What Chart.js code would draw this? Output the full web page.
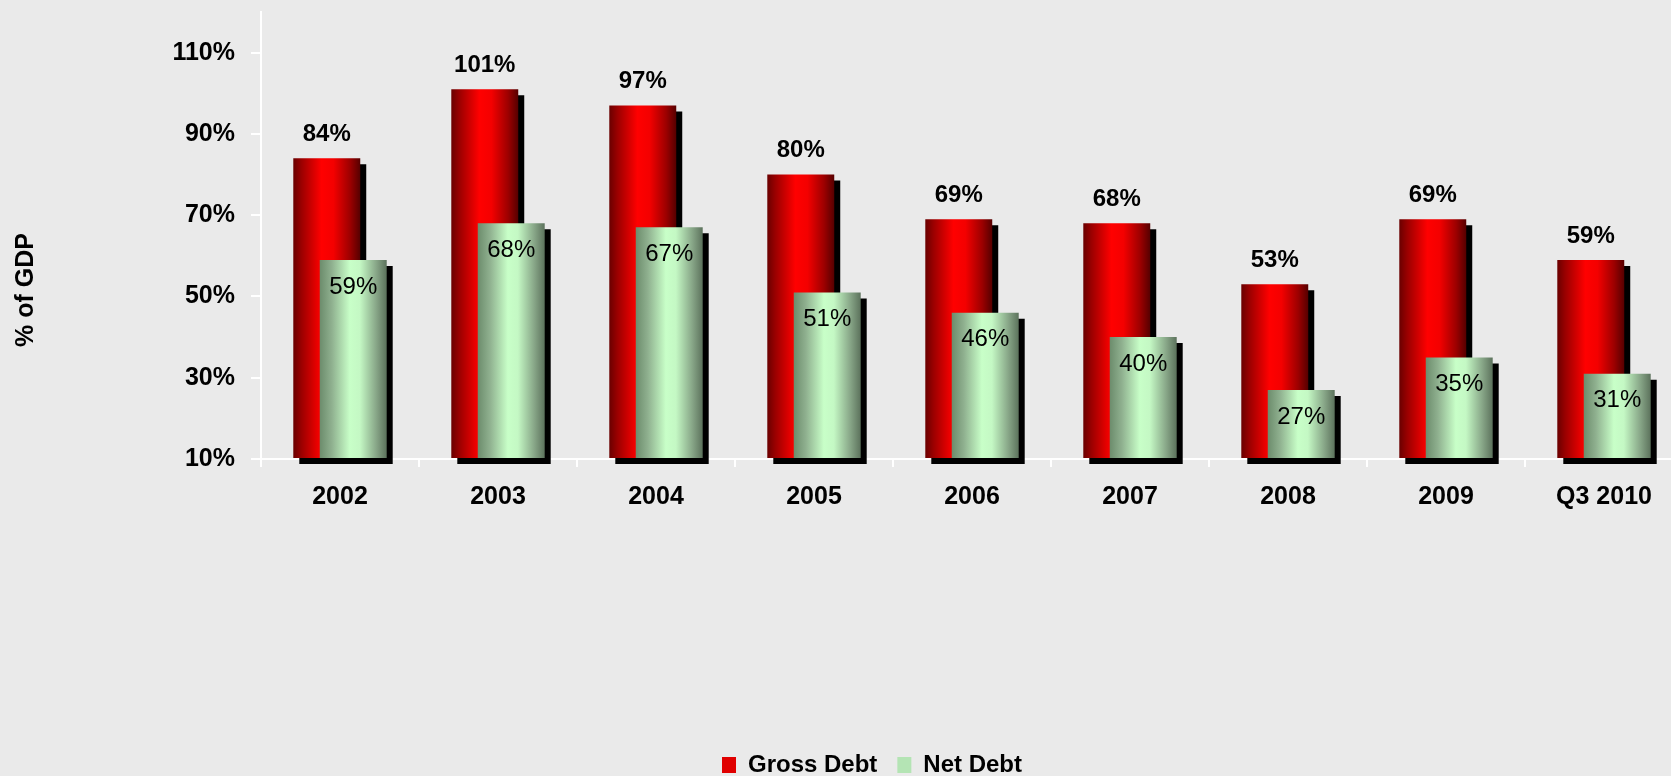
<!DOCTYPE html>
<html>
<head>
<meta charset="utf-8">
<script src="https://cdn.jsdelivr.net/npm/chart.js@4"></script>
<style>
  html, body { margin: 0; padding: 0; background: #eaeaea; overflow: hidden; }
  #wrap { width: 1671px; height: 776px; overflow: hidden; position: relative; }
  canvas { display: block; }
</style>
</head>
<body>
<div id="wrap"><canvas id="debtChart" width="1690" height="800"></canvas></div>
<script>
// Debt as a share of GDP, by year
const categories = ['2002', '2003', '2004', '2005', '2006', '2007', '2008', '2009', 'Q3 2010'];
const grossDebt  = [84, 101, 97, 80, 69, 68, 53, 69, 59];
const netDebt    = [59, 68, 67, 51, 46, 40, 27, 35, 31];
const yTicks     = [10, 30, 50, 70, 90, 110];
const seriesNames = ['Gross Debt', 'Net Debt'];
const yAxisTitle = '% of GDP';

const FONT = "'Liberation Sans', Arial, Helvetica, sans-serif";

// Horizontal shading that gives each bar a rounded, cylinder-like look
const shades = [
  [[0, '#6a0000'], [0.12, '#9a0000'], [0.42, '#ff0000'], [0.6, '#f40000'], [0.85, '#9c0000'], [1, '#560000']],
  [[0, '#6c8c6c'], [0.18, '#8fb08f'], [0.45, '#c8ffc8'], [0.6, '#c4f8c4'], [0.85, '#86a486'], [1, '#5c725c']]
];

// Bars are painted in dataset order (gross first, net on top), each with a hard drop shadow,
// followed by the value labels.
const cylinderBars = {
  id: 'cylinderBars',
  beforeDatasetsDraw(chart) {
    const ctx = chart.ctx;
    const metas = chart.getSortedVisibleDatasetMetas().slice().sort((a, b) => a.index - b.index);
    for (const meta of metas) {
      const stops = shades[meta.index];
      ctx.save();
      ctx.shadowColor = '#000';
      ctx.shadowBlur = 0;
      ctx.shadowOffsetX = 6;
      ctx.shadowOffsetY = 6;
      for (const bar of meta.data) {
        const { x, width } = bar.getProps(['x', 'width'], true);
        const g = ctx.createLinearGradient(x - width / 2, 0, x + width / 2, 0);
        stops.forEach(([o, c]) => g.addColorStop(o, c));
        const saved = bar.options;
        const opts = Object.create(saved);
        opts.backgroundColor = g;
        bar.options = opts;
        bar.draw(ctx, chart.chartArea);
        bar.options = saved;
      }
      ctx.restore();
    }

    ctx.save();
    ctx.textAlign = 'center';
    ctx.textBaseline = 'middle';
    ctx.fillStyle = '#000';
    for (const meta of metas) {
      const values = chart.data.datasets[meta.index].data;
      meta.data.forEach((bar, i) => {
        const { x, y } = bar.getProps(['x', 'y'], true);
        const text = values[i] + '%';
        if (meta.index === 0) {
          ctx.font = 'bold 24px ' + FONT;
          ctx.fillText(text, x, y - 24);
        } else {
          ctx.font = '24px ' + FONT;
          ctx.fillText(text, x, y + 27);
        }
      });
    }
    ctx.restore();
    return false;
  }
};

// Rotated title beside the value axis
const sideTitle = {
  id: 'sideTitle',
  afterDraw(chart) {
    const ctx = chart.ctx;
    ctx.save();
    ctx.translate(26, 290);
    ctx.rotate(-Math.PI / 2);
    ctx.font = 'bold 25px ' + FONT;
    ctx.fillStyle = '#000';
    ctx.textAlign = 'center';
    ctx.textBaseline = 'middle';
    ctx.fillText(yAxisTitle, 0, 0);
    ctx.restore();
  }
};

new Chart(document.getElementById('debtChart'), {
  type: 'bar',
  data: {
    labels: categories,
    datasets: [
      { label: seriesNames[0], data: grossDebt, backgroundColor: '#e00000', borderWidth: 0, base: yTicks[0] },
      { label: seriesNames[1], data: netDebt, backgroundColor: '#b4e4b4', borderWidth: 0, base: yTicks[0] }
    ]
  },
  options: {
    responsive: false,
    animation: false,
    devicePixelRatio: 1,
    categoryPercentage: 0.335,
    barPercentage: 2.53,
    layout: { padding: { left: 61, right: 7, top: 12, bottom: 13 } },
    plugins: {
      tooltip: { enabled: false },
      legend: {
        position: 'bottom',
        labels: {
          boxWidth: 14,
          boxHeight: 16,
          padding: 20,
          color: '#000',
          font: { family: FONT, size: 24, weight: 'bold' }
        }
      }
    },
    scales: {
      x: {
        grid: { offset: true, drawOnChartArea: false, drawTicks: true, tickLength: 8, color: '#ffffff', lineWidth: 2 },
        border: { display: true, color: '#ffffff', width: 2 },
        ticks: { color: '#000', padding: 15, maxRotation: 0, autoSkip: false, font: { family: FONT, size: 25, weight: 'bold' } },
        afterFit(scale) { scale.height = 274; scale.paddingLeft = 0; scale.paddingRight = 0; }
      },
      y: {
        min: 10,
        max: 120,
        afterBuildTicks(scale) { scale.ticks = yTicks.map(v => ({ value: v })); },
        grid: { drawOnChartArea: false, drawTicks: true, tickLength: 10, color: '#ffffff', lineWidth: 2 },
        border: { display: true, color: '#ffffff', width: 2 },
        ticks: {
          color: '#000',
          padding: 16,
          font: { family: FONT, size: 25, weight: 'bold' },
          callback: v => v + '%'
        },
        afterFit(scale) { scale.width = 200; scale.paddingTop = 0; scale.paddingBottom = 0; }
      }
    }
  },
  plugins: [cylinderBars, sideTitle]
});
</script>
</body>
</html>
